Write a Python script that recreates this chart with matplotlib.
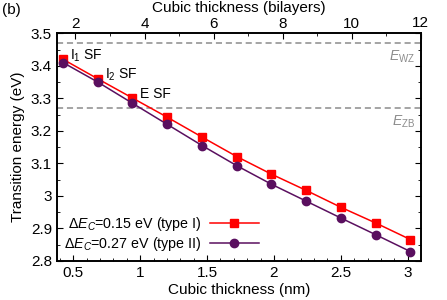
import numpy as np
import matplotlib.pyplot as plt
from matplotlib.ticker import MultipleLocator

# Data
bilayer_nm = 0.258  # thickness of one bilayer (nm)
thickness_nm = [0.423, 0.683, 0.942, 1.202, 1.462, 1.722, 1.981, 2.241, 2.501, 2.760, 3.020]
energy_type1 = [3.420, 3.360, 3.301, 3.242, 3.181, 3.121, 3.067, 3.017, 2.965, 2.917, 2.866]
energy_type2 = [3.410, 3.350, 3.285, 3.220, 3.155, 3.093, 3.036, 2.984, 2.932, 2.881, 2.829]
e_wz = 3.47
e_zb = 3.27

sf_labels = ['I$_1$ SF', 'I$_2$ SF', 'E SF']
bilayer_ticks = [2, 4, 6, 8, 10, 12]

plt.rcParams['font.family'] = 'Liberation Sans'
plt.rcParams['font.size'] = 11
plt.rcParams['mathtext.fontset'] = 'custom'
plt.rcParams['mathtext.rm'] = 'Liberation Sans'
plt.rcParams['mathtext.it'] = 'Liberation Sans:italic'

fig = plt.figure(figsize=(4.47, 3.0), dpi=100)
ax = fig.add_axes([0.127, 0.13, 0.814, 0.759])

gray = '#8c8c8c'
ax.axhline(e_wz, color=gray, linestyle=(0, (4, 2.5)), linewidth=1.1)
ax.axhline(e_zb, color=gray, linestyle=(0, (4, 2.5)), linewidth=1.1)
ax.text(3.055, e_wz - 0.042, r'$E_{\rm WZ}$', color=gray, ha='right', va='center', fontsize=10)
ax.text(3.055, e_zb - 0.042, r'$E_{\rm ZB}$', color=gray, ha='right', va='center', fontsize=10)

ax.plot(thickness_nm, energy_type1, color='#ff0000', marker='s', markersize=6,
        linewidth=1.1, label=r'$\Delta E_C$=0.15 eV (type I)')
ax.plot(thickness_nm, energy_type2, color='#5a0f5f', marker='o', markersize=6,
        linewidth=1.1, label=r'$\Delta E_C$=0.27 eV (type II)')

# stacking fault labels next to the first three points
for i, lab in enumerate(sf_labels):
    ax.text(thickness_nm[i] + 0.055, energy_type1[i] + 0.012, lab, fontsize=10, va='center')

x_lo, x_hi = 0.376, 12.002 * bilayer_nm
ax.set_xlim(x_lo, x_hi)
ax.set_ylim(2.8, 3.5)
ax.xaxis.set_minor_locator(MultipleLocator(0.1))
ax.yaxis.set_minor_locator(MultipleLocator(0.05))
ax.set_xticks([0.5, 1, 1.5, 2, 2.5, 3])
ax.set_xticklabels(['0.5', '1', '1.5', '2', '2.5', '3'])
ax.set_yticks([2.8, 2.9, 3.0, 3.1, 3.2, 3.3, 3.4, 3.5])
ax.set_yticklabels(['2.8', '2.9', '3', '3.1', '3.2', '3.3', '3.4', '3.5'])
ax.tick_params(which='both', direction='in', right=True, top=False)
ax.tick_params(which='major', length=4)
ax.tick_params(which='minor', length=2)
ax.set_xlabel('Cubic thickness (nm)', labelpad=2)
ax.set_ylabel('Transition energy (eV)', labelpad=4)
for s in ax.spines.values():
    s.set_linewidth(1.2)

# top axis in bilayers
top = ax.twiny()
top.set_xlim(x_lo / bilayer_nm, x_hi / bilayer_nm)
top.set_xticks(bilayer_ticks)
top.set_xticklabels([str(b) for b in bilayer_ticks[:-1]] + [''])
top.xaxis.set_minor_locator(MultipleLocator(1))
top.tick_params(which='both', direction='in')
top.tick_params(which='major', length=4, pad=2)
top.tick_params(which='minor', length=2)
top.set_xlabel('Cubic thickness (bilayers)', labelpad=3)
for s in top.spines.values():
    s.set_linewidth(1.2)

leg = ax.legend(loc='lower right', bbox_to_anchor=(0.555, 0.035), frameon=False,
                markerfirst=False, handlelength=3.4, fontsize=10.3, alignment='right',
                borderaxespad=0.0, borderpad=0.0, labelspacing=0.12, handletextpad=0.6)

fig.text(0.005, 0.99, '(b)', ha='left', va='top', fontsize=11)

# last top label placed in figure coordinates, above the right end of the top axis
fig.canvas.draw()
x_disp, y_disp = top.transAxes.transform((1.0, 1.0))
fig.text(x_disp / fig.bbox.width, (y_disp + 3) / fig.bbox.height,
         str(bilayer_ticks[-1]), ha='center', va='bottom', fontsize=11)

fig.savefig('out.png', dpi=100)
